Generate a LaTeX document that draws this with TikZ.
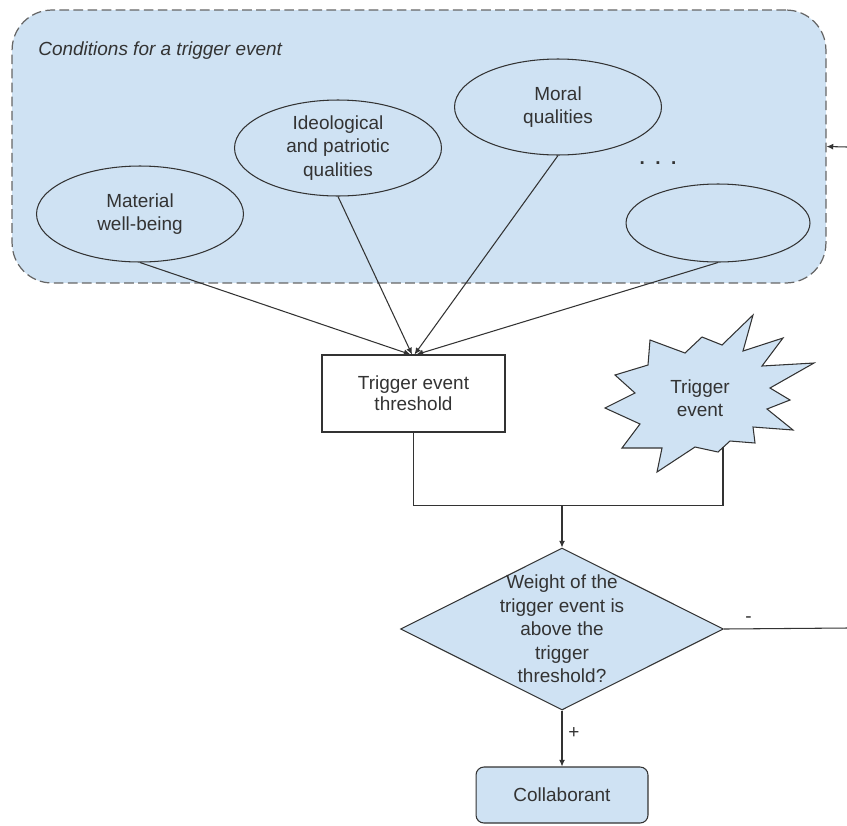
\documentclass[tikz,border=0pt]{standalone}
\usepackage{fontspec}
\setmainfont{Liberation Sans}
\usetikzlibrary{shapes.geometric,arrows.meta}
\definecolor{paleblue}{HTML}{CFE2F3}
\definecolor{ink}{HTML}{333333}

\begin{document}
\begin{tikzpicture}[x=0.02cm, y=-0.02cm, font=\fontsize{10.8pt}{13.4pt}\selectfont, text=ink,
  cond/.style={ellipse, draw=ink, line width=0.6pt, minimum width=4.14cm, minimum height=1.92cm, align=center, inner sep=0pt},
  link/.style={draw=ink, line width=0.6pt, -{Latex[length=3.8pt,width=3.4pt]}},
  wire/.style={draw=ink, line width=0.6pt}]
  \useasboundingbox (0,0) rectangle (847,825);
  \node[draw=ink!75, fill=paleblue, line width=0.7pt, dash pattern=on 5.5pt off 2.5pt, rounded corners=0.8cm, minimum width=16.28cm, minimum height=5.46cm] (conds) at (419,146.5) {};
  \node[anchor=base west, inner sep=0pt, font=\fontsize{10.8pt}{13pt}\selectfont\itshape] (title) at (38,55) {Conditions for a trigger event};
  \node[cond] (mat) at (140,214) {Material\\well-being};
  \node[cond] (ideo) at (338,148) {Ideological\\and patriotic\\qualities};
  \node[cond] (moral) at (558,107) {Moral\\qualities};
  \node[cond, minimum width=3.68cm, minimum height=1.56cm] (other) at (718,223) {};
  \node[anchor=base, inner sep=0pt, font=\fontsize{10.8pt}{13pt}\selectfont\bfseries] (dots) at (658,164) {.\hspace{0.55em}.\hspace{0.55em}.};
  \node[draw=ink, fill=white, line width=0.6pt, minimum width=3.66cm, minimum height=1.54cm, align=center, font=\fontsize{10.8pt}{12pt}\selectfont] (thr) at (413.5,393.5) {Trigger event\\threshold};
  \filldraw[fill=paleblue, draw=ink, line width=0.6pt] (753,315) -- (743,351) -- (783,338) -- (762,366) -- (814,363) -- (770,388) -- (790,400) -- (767,409) -- (793,430) -- (753,427) -- (755,443) -- (730,441) -- (718,452) -- (695,447) -- (657,472) -- (662,448) -- (622,448) -- (640,424) -- (605,408) -- (635,393) -- (615,375) -- (648,365) -- (650,340) -- (685,353) -- (702,337) -- (722,345) -- cycle;
  \node[align=center] (ev) at (700,398) {Trigger\\event};
  \coordinate (evfoot) at (723,447);
  \coordinate (join) at (562,505);
  \node[diamond, draw=ink, fill=paleblue, line width=0.6pt, minimum width=6.46cm, minimum height=3.24cm, inner sep=0pt,
    label={[align=center]center:Weight of the\\trigger event is\\above the\\trigger\\threshold?}] (w) at (562,629) {};
  \node[draw=ink, fill=paleblue, line width=0.6pt, rounded corners=4.5pt, minimum width=3.44cm, minimum height=1.12cm] (col) at (562,795) {Collaborant};
  \coordinate (backin) at (847,147);
  \coordinate (backout) at (847,628);
  \draw[link] (mat.south) -- ([xshift=-0.06cm]thr.north);
  \draw[link] (ideo.south) -- ([xshift=-0.03cm]thr.north);
  \draw[link] (moral.south) -- ([xshift=0.02cm]thr.north);
  \draw[link] (other.south) -- ([xshift=0.06cm]thr.north);
  \draw[wire] (thr.south) -- ++(0,73) -| (evfoot);
  \draw[link] (join) -- (w.north);
  \draw[link] (w.south) -- node[pos=0.4, right] {+} (col.north);
  \draw[wire] (w.east) -- node[pos=0.2, above] {-} (backout);
  \draw[link] (backin) -- (conds.east);
\end{tikzpicture}
\end{document}
